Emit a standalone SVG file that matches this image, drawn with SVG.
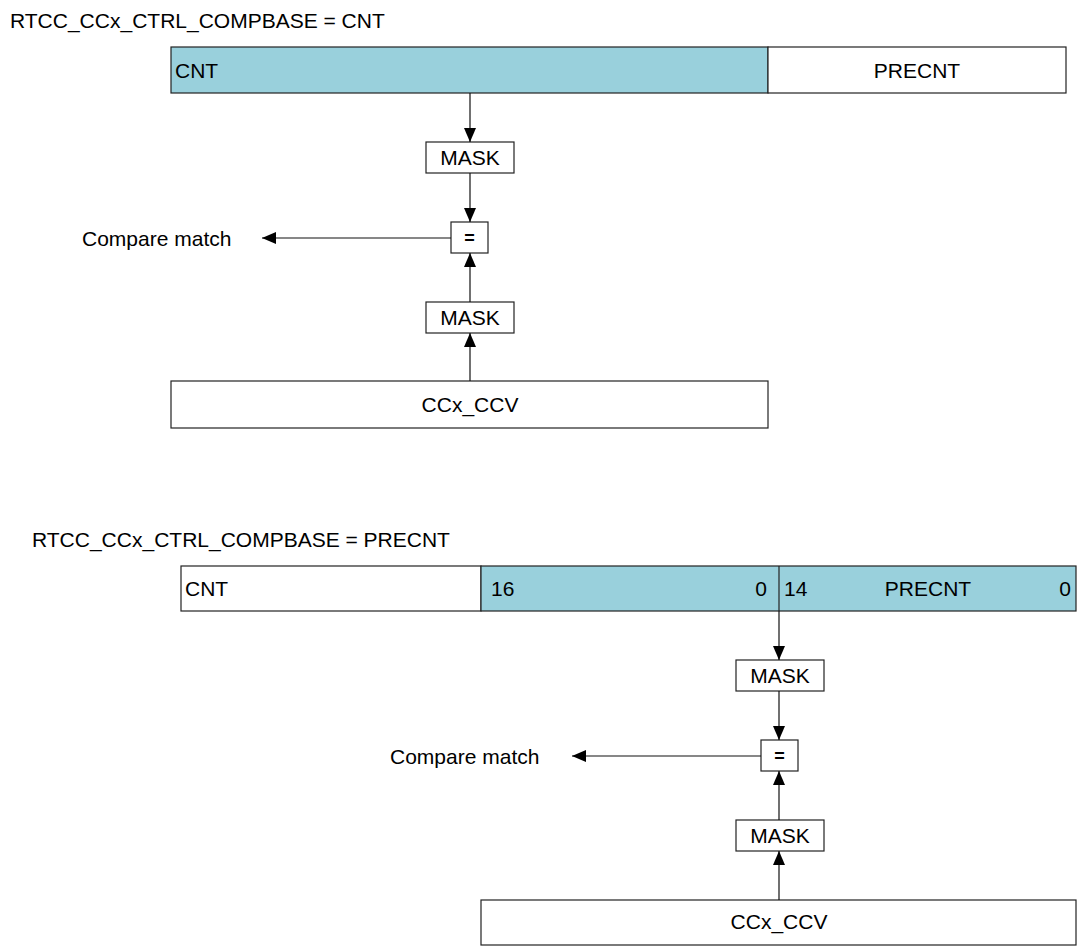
<svg xmlns="http://www.w3.org/2000/svg" width="1078" height="951" viewBox="0 0 1078 951">
<defs>
<style>
text{font-family:"Liberation Sans",Arial,sans-serif;font-size:21px;fill:#000}
.box{fill:#fff;stroke:#222;stroke-width:1.2}
.reg{fill:#99d0dc;stroke:#222;stroke-width:1.2}
.c{stroke:#111;stroke-width:1.2;fill:none;marker-end:url(#ah)}
.div{stroke:#222;stroke-width:1.2}
.m{text-anchor:middle}
.e{text-anchor:end}
.eq{font-size:18px;font-weight:bold}
</style>
<marker id="ah" viewBox="0 0 14 12" refX="14" refY="6" markerWidth="14" markerHeight="12" markerUnits="userSpaceOnUse" orient="auto">
<path d="M0,0 L14,6 L0,12 Z" fill="#000"/>
</marker>
</defs>
<rect width="1078" height="951" fill="#fff"/>

<text id="title1" x="10" y="28">RTCC_CCx_CTRL_COMPBASE = CNT</text>
<g id="cnt1"><rect class="reg" x="171" y="47" width="597" height="46"/><text x="175" y="78">CNT</text></g>
<g id="precnt1"><rect class="box" x="768" y="47" width="298" height="46"/><text class="m" x="917" y="78">PRECNT</text></g>
<g id="mask1"><rect class="box" x="426" y="142" width="88" height="31"/><text class="m" x="470" y="165">MASK</text></g>
<g id="eq1"><rect class="box" x="451" y="222" width="37" height="31"/><text class="m eq" x="469.5" y="244">=</text></g>
<g id="mask2"><rect class="box" x="426" y="302" width="88" height="31"/><text class="m" x="470" y="325">MASK</text></g>
<g id="ccv1"><rect class="box" x="171" y="381" width="597" height="47"/><text class="m" x="470" y="412">CCx_CCV</text></g>
<text id="cm1" x="82" y="246">Compare match</text>

<text id="title2" x="32" y="547">RTCC_CCx_CTRL_COMPBASE = PRECNT</text>
<g id="cnt2"><rect class="box" x="181" y="566" width="300" height="45"/><text x="185" y="596">CNT</text></g>
<g id="bits2"><rect class="reg" x="481" y="566" width="595" height="45"/><line class="div" x1="779" y1="566" x2="779" y2="611"/>
<text x="491" y="596">16</text><text class="e" x="767" y="596">0</text>
<text x="784" y="596">14</text><text class="m" x="928" y="596">PRECNT</text><text class="e" x="1071" y="596">0</text></g>
<g id="mask3"><rect class="box" x="736" y="660" width="88" height="31"/><text class="m" x="780" y="683">MASK</text></g>
<g id="eq2"><rect class="box" x="761" y="740" width="37" height="31"/><text class="m eq" x="779.5" y="762">=</text></g>
<g id="mask4"><rect class="box" x="736" y="820" width="88" height="31"/><text class="m" x="780" y="843">MASK</text></g>
<g id="ccv2"><rect class="box" x="481" y="900" width="595" height="45"/><text class="m" x="779" y="929">CCx_CCV</text></g>
<text id="cm2" x="390" y="764">Compare match</text>

<g id="connectors">
<line class="c" x1="470" y1="93" x2="470" y2="142"/>
<line class="c" x1="470" y1="173" x2="470" y2="222"/>
<line class="c" x1="470" y1="302" x2="470" y2="253"/>
<line class="c" x1="470" y1="381" x2="470" y2="333"/>
<line class="c" x1="451" y1="238" x2="262" y2="238"/>
<line class="c" x1="779" y1="611" x2="779" y2="660"/>
<line class="c" x1="779" y1="691" x2="779" y2="740"/>
<line class="c" x1="779" y1="820" x2="779" y2="771"/>
<line class="c" x1="779" y1="900" x2="779" y2="851"/>
<line class="c" x1="761" y1="756" x2="572" y2="756"/>
</g>
</svg>
